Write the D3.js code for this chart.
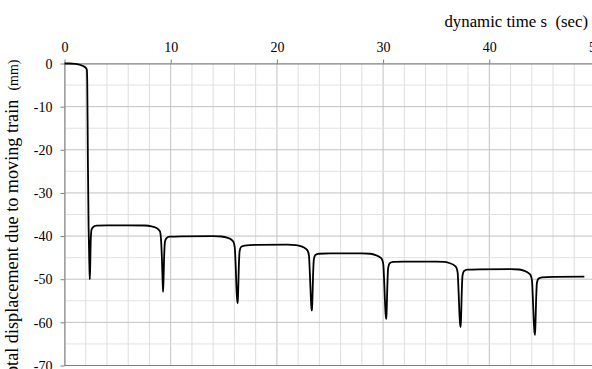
<!DOCTYPE html>
<html>
<head>
<meta charset="utf-8">
<script src="https://cdn.jsdelivr.net/npm/d3@7"></script>
<style>
  body { margin: 0; background: #fff; }
  svg { display: block; }
  svg text { font-family: "Liberation Serif", "Times New Roman", serif !important; }
</style>
</head>
<body>
<div id="canvas"></div>
<script>
// time (sec) and displacement (mm), one row per train passage
const time = [
  0, 0.5, 1.0, 1.5, 1.8, 2.0, 2.1, 2.14, 2.2, 2.27, 2.34, 2.38, 2.42, 2.47, 2.55, 2.7, 3.0, 4.0, 6.0,
  7.6, 8.2, 8.6, 8.85, 9.0, 9.08, 9.17, 9.24, 9.28, 9.32, 9.38, 9.46, 9.6, 9.9, 11, 14,
  14.8, 15.3, 15.7, 15.9, 16.03, 16.12, 16.21, 16.27, 16.31, 16.35, 16.41, 16.49, 16.63, 16.95, 18, 21,
  21.8, 22.3, 22.7, 22.9, 23.02, 23.11, 23.2, 23.26, 23.3, 23.34, 23.4, 23.48, 23.62, 23.95, 25, 28,
  28.8, 29.3, 29.7, 29.9, 30.02, 30.11, 30.2, 30.26, 30.3, 30.34, 30.4, 30.48, 30.62, 30.95, 32, 35,
  35.8, 36.3, 36.7, 36.9, 37.02, 37.11, 37.2, 37.26, 37.3, 37.34, 37.4, 37.48, 37.62, 37.95, 39, 42,
  42.8, 43.3, 43.7, 43.9, 44.02, 44.11, 44.2, 44.26, 44.3, 44.34, 44.4, 44.48, 44.62, 44.95, 46, 48.95,
];
const disp = [
  0, 0, -0.1, -0.35, -0.65, -1.0, -1.4, -4, -22, -38, -46.5, -50, -47, -41, -38.5, -37.9, -37.6, -37.5, -37.5,
  -37.55, -37.75, -38.05, -38.5, -39.0, -40.5, -45, -50.5, -52.9, -50.5, -45, -41.3, -40.5, -40.15, -40.05, -40.0,
  -40.1, -40.35, -40.8, -41.3, -42.6, -47, -53, -55, -55.6, -53, -47.5, -43.5, -42.5, -42.2, -42.05, -42.0,
  -42.1, -42.4, -42.9, -43.4, -44.6, -49, -54.5, -56.8, -57.3, -55, -49.5, -45.4, -44.4, -44.1, -44.0, -44.0,
  -44.1, -44.4, -44.9, -45.4, -46.6, -51, -56.5, -58.7, -59.2, -57, -51.5, -47.3, -46.3, -46.0, -45.9, -45.9,
  -46.0, -46.3, -46.8, -47.3, -48.5, -53, -58.5, -60.6, -61.1, -59, -53.5, -49.1, -48.1, -47.8, -47.7, -47.65,
  -47.75, -48.05, -48.6, -49.1, -50.3, -55, -60.3, -62.4, -62.9, -60.8, -55.5, -50.9, -49.9, -49.55, -49.45, -49.4,
];

const xTicks = [0, 10, 20, 30, 40, 50];
const yTicks = [0, -10, -20, -30, -40, -50, -60, -70];
const xMinor = d3.range(0, 51, 2);
const yMinor = d3.range(0, -71, -5);

const xTitle = "dynamic time s  (sec)";
const yTitle = "Total displacement due to moving train";
const yUnit = "(mm)";

const width = 592;
const height = 369;

const svg = d3.select("#canvas").append("svg")
  .attr("width", width)
  .attr("height", height);

const x = d3.scaleLinear().domain([0, 50]).range([64.5, 595.5]);
const y = d3.scaleLinear().domain([-70, 0]).range([365.5, 63.5]);

// grid
const grid = svg.append("g");
grid.selectAll(".vminor").data(xMinor).enter().append("line")
  .attr("x1", d => x(d)).attr("x2", d => x(d))
  .attr("y1", y(0)).attr("y2", y(-70))
  .attr("stroke", d => d % 10 === 0 ? "#c2c2c2" : "#dedede");
grid.selectAll(".hminor").data(yMinor).enter().append("line")
  .attr("x1", x(0)).attr("x2", width)
  .attr("y1", d => y(d)).attr("y2", d => y(d))
  .attr("stroke", d => d % 10 === 0 ? "#c2c2c2" : "#e2e2e2");

// axes
const xAxis = svg.append("g")
  .attr("transform", `translate(0, ${y(0)})`)
  .call(d3.axisTop(x).tickValues(xTicks).tickSize(4).tickSizeOuter(0).tickPadding(8).tickFormat(d3.format("d")));

const yAxis = svg.append("g")
  .attr("transform", `translate(${x(0)}, 0)`)
  .call(d3.axisLeft(y).tickValues(yTicks).tickSize(4).tickSizeOuter(0).tickPadding(8)
    .tickFormat(d => d === 0 ? "0" : "-" + Math.abs(d)));

[xAxis, yAxis].forEach(a => {
  a.attr("font-family", null).attr("font-size", null);
  a.select(".domain").attr("stroke", "#808080");
  a.selectAll(".tick line").attr("stroke", "#808080");
  a.selectAll(".tick text").attr("fill", "#000").style("font-size", "14px");
});
yAxis.selectAll(".tick text").attr("dy", "0.34em");

svg.append("line")
  .attr("x1", x(0)).attr("x2", width)
  .attr("y1", y(-70)).attr("y2", y(-70))
  .attr("stroke", "#808080");

// titles
svg.append("text")
  .attr("x", 588)
  .attr("y", 27)
  .attr("text-anchor", "end")
  .style("font-size", "16.8px")
  .style("white-space", "pre")
  .text(xTitle);

const yt = svg.append("text")
  .attr("text-anchor", "end")
  .attr("transform", "translate(18, 59.5) rotate(-90)")
  .style("white-space", "pre");
yt.append("tspan").style("font-size", "18.2px").text(yTitle + "  ");
yt.append("tspan").style("font-size", "14px").text(yUnit);

// displacement curve
const points = time.map((t, i) => [t, disp[i]]);
const line = d3.line()
  .x(d => x(d[0]))
  .y(d => y(d[1]))
  .curve(d3.curveMonotoneX);

svg.append("path")
  .datum(points)
  .attr("fill", "none")
  .attr("stroke", "#000")
  .attr("stroke-width", 1.8)
  .attr("stroke-linejoin", "round")
  .attr("d", line);
</script>
</body>
</html>
